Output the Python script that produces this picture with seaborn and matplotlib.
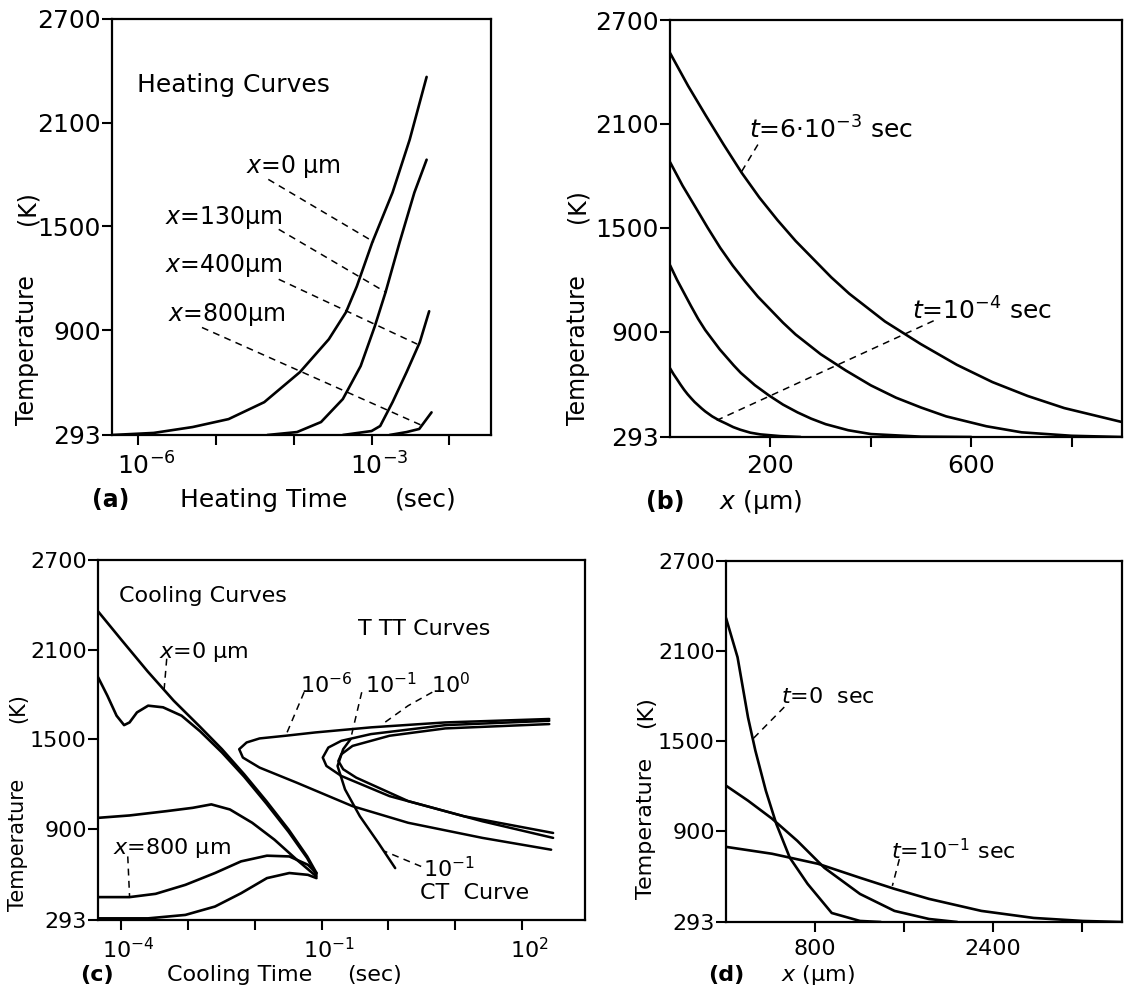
import matplotlib
matplotlib.use("Agg")
import matplotlib.pyplot as plt
import matplotlib.transforms as mtransforms
import seaborn as sns

# ---- panel (a): heating curves, time (s) vs temperature (K)
heat_t_x0 = [4.6e-7, 1.58e-6, 5.0e-6, 1.45e-5, 4.17e-5, 1.2e-4, 2.82e-4, 4.68e-4, 6.46e-4, 1.02e-3, 1.86e-3, 3.09e-3, 5.1e-3]
heat_T_x0 = [293, 305, 339, 385, 483, 657, 847, 1003, 1153, 1407, 1696, 2002, 2365]
heat_t_x130 = [4.57e-5, 1.10e-4, 2.24e-4, 4.27e-4, 7.24e-4, 1.10e-3, 1.51e-3, 2.29e-3, 3.55e-3, 5.1e-3]
heat_T_x130 = [293, 310, 368, 501, 692, 922, 1118, 1407, 1696, 1886]
heat_t_x400 = [4.27e-4, 1.0e-3, 1.29e-3, 1.86e-3, 2.82e-3, 4.17e-3, 5.5e-3]
heat_T_x400 = [293, 316, 345, 483, 657, 830, 1009]
heat_t_x800 = [1.7e-3, 2.82e-3, 4.1e-3, 5.9e-3]
heat_T_x800 = [293, 310, 328, 424]
heat_labels = ["$\\mathit{x}$=0 µm", "$\\mathit{x}$=130µm", "$\\mathit{x}$=400µm", "$\\mathit{x}$=800µm"]
heat_label_t = [2.46e-5, 2.22e-6, 2.22e-6, 2.4e-6]
heat_label_T = [1849, 1551, 1271, 992]
heat_lead_t = [[4.7e-5, 1.07e-3], [6.4e-5, 1.55e-3], [6.4e-5, 3.85e-3], [6.6e-6, 4.5e-3]]
heat_lead_T = [[1772, 1410], [1483, 1117], [1194, 819], [915, 347]]

# ---- panel (b): profiles T(x) during heating, x in um
prof_x_a = [0, 36, 71, 107, 143, 178, 214, 250, 321, 357, 428, 499, 571, 642, 712, 785, 899]
prof_T_a = [2510, 2320, 2150, 1980, 1817, 1675, 1545, 1425, 1215, 1120, 960, 830, 710, 610, 530, 460, 380]
prof_x_b = [0, 25, 50, 75, 100, 125, 150, 175, 225, 250, 300, 350, 400, 450, 500, 550, 630, 700, 800, 900]
prof_T_b = [1880, 1744, 1623, 1501, 1385, 1282, 1190, 1103, 953, 885, 771, 677, 591, 520, 463, 412, 355, 320, 300, 293]
prof_x_c = [0, 14, 28, 42, 56, 70, 85, 99, 127, 141, 169, 197, 225, 254, 281, 310, 355, 400, 500, 600]
prof_T_c = [1285, 1200, 1124, 1048, 975, 911, 853, 799, 706, 663, 592, 533, 480, 435, 399, 367, 332, 310, 295, 293]
prof_x_d = [0, 7, 14, 21, 28, 35, 42, 49, 63, 70, 84, 98, 112, 126, 140, 160, 180, 220, 260]
prof_T_d = [690, 656, 626, 595, 566, 540, 517, 495, 458, 441, 412, 389, 370, 350, 335, 318, 308, 298, 293]

# ---- panel (c): cooling curves and TTT / CT curves
cool_t_1 = [4.52e-5, 1.03e-4, 2.51e-4, 6.14e-4, 1.5e-3, 3.23e-3, 6.95e-3, 1.49e-2, 3.21e-2, 6.08e-2, 8.38e-2]
cool_T_1 = [2357, 2162, 1954, 1759, 1587, 1435, 1267, 1088, 897, 718, 607]
cool_t_2 = [4.52e-5, 6.24e-5, 8.57e-5, 1.11e-4, 1.34e-4, 1.73e-4, 2.54e-4, 4.25e-4, 8.04e-4, 1.52e-3, 3.23e-3, 6.95e-3, 1.49e-2, 3.21e-2, 6.08e-2, 8.38e-2]
cool_T_2 = [1917, 1793, 1659, 1596, 1614, 1681, 1726, 1715, 1659, 1555, 1413, 1251, 1072, 882, 707, 595]
cool_t_3 = [4.52e-5, 1.34e-4, 4.82e-4, 1.18e-3, 2.24e-3, 4.25e-3, 9.16e-3, 1.97e-2, 4.25e-2, 8.38e-2]
cool_T_3 = [976, 992, 1021, 1043, 1066, 1032, 943, 830, 696, 584]
cool_t_4 = [4.52e-5, 1.34e-4, 3.29e-4, 9.16e-4, 2.54e-3, 6.24e-3, 1.52e-2, 3.29e-2, 6.24e-2, 8.38e-2]
cool_T_4 = [446, 446, 468, 528, 607, 685, 723, 718, 662, 607]
cool_t_5 = [4.52e-5, 2.54e-4, 9.16e-4, 2.54e-3, 6.24e-3, 1.52e-2, 3.29e-2, 6.24e-2, 8.38e-2]
cool_T_5 = [304, 304, 327, 383, 472, 573, 607, 595, 573]
ttt_t_6 = [254, 7.08, 0.547, 0.0804, 0.029, 0.0118, 7.55e-3, 5.85e-3, 6.64e-3, 0.0118, 0.0425, 0.29, 1.97, 25.4, 271]
ttt_T_6 = [1637, 1614, 1581, 1547, 1525, 1507, 1480, 1435, 1379, 1312, 1211, 1054, 943, 842, 763]
ttt_t_1 = [254, 7.08, 0.547, 0.197, 0.126, 0.104, 0.118, 0.197, 1.04, 13.4, 290]
ttt_T_1 = [1625, 1596, 1536, 1491, 1446, 1379, 1323, 1256, 1121, 987, 875]
ttt_t_0 = [254, 7.08, 1.04, 0.29, 0.197, 0.178, 0.21, 0.329, 1.97, 25.4, 290]
ttt_T_0 = [1603, 1574, 1525, 1457, 1401, 1356, 1301, 1245, 1088, 953, 842]
ct_t = [0.271, 0.21, 0.173, 0.224, 0.373, 0.708, 1.26]
ct_T = [1502, 1435, 1323, 1166, 987, 808, 640]

# ---- panel (d): profiles T(x) during cooling
cprof_x_a = [0, 104, 198, 264, 358, 452, 574, 734, 951, 1205, 1393]
cprof_T_a = [2320, 2058, 1657, 1436, 1169, 948, 721, 547, 353, 300, 293]
cprof_x_b = [0, 198, 414, 640, 885, 1205, 1515, 1826, 2080]
cprof_T_b = [1202, 1102, 982, 835, 654, 480, 367, 313, 293]
cprof_x_c = [0, 414, 828, 1205, 1515, 1826, 2296, 2767, 3209, 3561]
cprof_T_c = [794, 748, 681, 588, 514, 447, 367, 320, 300, 293]

T_ticks = [293, 900, 1500, 2100, 2700]

sns.set_style("ticks")
plt.rcParams["font.family"] = ["DejaVu Sans"]
plt.rcParams["mathtext.default"] = "regular"
for k in ["text.color", "axes.labelcolor", "xtick.color", "ytick.color", "axes.edgecolor"]:
    plt.rcParams[k] = "black"

W, H = 1127, 992
fig = plt.figure(figsize=(W / 100, H / 100), dpi=100)


def box(l, t, r, b):
    return [l / W, 1 - b / H, (r - l) / W, (b - t) / H]


def curve(ax, x, y, lw=1.9, ls="-"):
    sns.lineplot(x=x, y=y, ax=ax, color="black", linewidth=lw, linestyle=ls,
                 sort=False, estimator=None, legend=False)


def dash(ax, x, y):
    curve(ax, x, y, lw=1.1, ls=(0, (4.5, 3.5)))


def style(ax, fs):
    for s in ax.spines.values():
        s.set_linewidth(1.6)
        s.set_color("black")
    ax.set_ylim(293, 2700)
    ax.set_yticks(T_ticks)
    ax.set_yticklabels([str(v) for v in T_ticks])
    ax.tick_params(axis="y", direction="out", length=7, width=1.5, pad=1, labelsize=fs, colors="black")
    ax.tick_params(axis="x", direction="out", length=7.5, width=1.5, pad=5, labelsize=fs, colors="black")
    ax.minorticks_off()
    ax.set_xlabel("")
    ax.set_ylabel("")


def shift_xlabels(ax, px):
    # the "10" sits over the tick, the exponent hangs to the right
    off = mtransforms.ScaledTranslation(px / 100, 0, fig.dpi_scale_trans)
    for lab in ax.get_xticklabels():
        lab.set_transform(lab.get_transform() + off)


def ftext(x, y, s, **kw):
    fig.text(x / W, 1 - y / H, s, color="black", **kw)


# (a)
ax = fig.add_axes(box(112, 19, 491, 435))
for t, T in [(heat_t_x0, heat_T_x0), (heat_t_x130, heat_T_x130),
             (heat_t_x400, heat_T_x400), (heat_t_x800, heat_T_x800)]:
    curve(ax, t, T)
for lt, lT in zip(heat_lead_t, heat_lead_T):
    dash(ax, lt, lT)
ax.set_xscale("log")
ax.set_xlim(4.6e-7, 3.43e-2)
style(ax, 18)
ax.set_xticks([1e-6, 1e-5, 1e-4, 1e-3, 1e-2])
ax.set_xticklabels(["$10^{-6}$", "", "", "$10^{-3}$", ""])
ax.minorticks_off()
shift_xlabels(ax, 8)
ax.text(9.7e-7, 2321, "Heating Curves", fontsize=18, va="center", color="black")
for s, tx, Ty in zip(heat_labels, heat_label_t, heat_label_T):
    ax.text(tx, Ty, s, fontsize=17, va="center", color="black")

# (b)
ax = fig.add_axes(box(670, 20, 1122, 437))
for x, T in [(prof_x_a, prof_T_a), (prof_x_b, prof_T_b), (prof_x_c, prof_T_c), (prof_x_d, prof_T_d)]:
    curve(ax, x, T)
dash(ax, [175, 139], [1981, 1808])
dash(ax, [525, 93], [964, 389])
ax.set_xlim(0, 900)
style(ax, 18)
ax.set_xticks([200, 400, 600, 800])
ax.set_xticklabels(["200", "", "600", ""])
ax.text(157, 2067, "$\\mathit{t}$=6·10$^{-3}$ sec", fontsize=18, va="center", color="black")
ax.text(482, 1022, "$\\mathit{t}$=10$^{-4}$ sec", fontsize=18, va="center", color="black")

# (c)
ax = fig.add_axes(box(98, 560, 585, 920))
for t, T in [(cool_t_1, cool_T_1), (cool_t_2, cool_T_2), (cool_t_3, cool_T_3),
             (cool_t_4, cool_T_4), (cool_t_5, cool_T_5)]:
    curve(ax, t, T)
for t, T in [(ttt_t_6, ttt_T_6), (ttt_t_1, ttt_T_1), (ttt_t_0, ttt_T_0), (ct_t, ct_T)]:
    curve(ax, t, T, lw=1.8)
dash(ax, [4.82e-4, 4.4e-4], [2040, 1830])
dash(ax, [1.26e-4, 1.34e-4], [718, 450])
dash(ax, [0.0547, 0.029], [1816, 1525])
dash(ax, [0.398, 0.271], [1816, 1502])
dash(ax, [4.52, 1.97, 0.881], [1816, 1726, 1614])
dash(ax, [3.08, 0.881], [651, 752])
ax.set_xscale("log")
ax.set_xlim(4.52e-5, 870)
style(ax, 16)
ax.set_xticks([1e-4, 1e-3, 1e-2, 1e-1, 1e0, 1e1, 1e2])
ax.set_xticklabels(["$10^{-4}$", "", "", "$10^{-1}$", "", "", "$10^{2}$"])
ax.minorticks_off()
shift_xlabels(ax, 7)
for tx, Ty, s in [(9.3e-5, 2456, "Cooling Curves"), (0.355, 2241, "T TT Curves"),
                  (3.7e-4, 2087, "$\\mathit{x}$=0 µm"), (7.6e-5, 777, "$\\mathit{x}$=800 µm"),
                  (0.048, 1870, "10$^{-6}$"), (0.447, 1870, "10$^{-1}$"), (4.27, 1870, "10$^{0}$"),
                  (3.3, 640, "10$^{-1}$"), (3.0, 472, "CT  Curve")]:
    ax.text(tx, Ty, s, fontsize=16, va="center", color="black")

# (d)
ax = fig.add_axes(box(726, 561, 1122, 922))
for x, T in [(cprof_x_a, cprof_T_a), (cprof_x_b, cprof_T_b), (cprof_x_c, cprof_T_c)]:
    curve(ax, x, T)
dash(ax, [524, 242], [1726, 1514])
dash(ax, [1559, 1496], [712, 534])
ax.set_xlim(0, 3561)
style(ax, 16)
ax.set_xticks([800, 1600, 2400, 3200])
ax.set_xticklabels(["800", "", "2400", ""])
ax.text(493, 1793, "$\\mathit{t}$=0  sec", fontsize=16, va="center", color="black")
ax.text(1481, 768, "$\\mathit{t}$=10$^{-1}$ sec", fontsize=16, va="center", color="black")

# axis captions
for x, yt, yk, fs in [(27, 350, 208, 17), (578, 350, 206, 17), (18, 845, 708, 15), (646, 828, 712, 16)]:
    ftext(x, yt, "Temperature", rotation=90, ha="center", va="center", fontsize=fs)
    ftext(x, yk, "(K)", rotation=90, ha="center", va="center", fontsize=fs)

ftext(111, 500, "(a)", ha="center", va="center", fontsize=17, fontweight="bold")
ftext(180, 500, "Heating Time", ha="left", va="center", fontsize=18)
ftext(395, 500, "(sec)", ha="left", va="center", fontsize=18)
ftext(665, 502, "(b)", ha="center", va="center", fontsize=17, fontweight="bold")
ftext(719, 502, "$\\mathit{x}$ (µm)", ha="left", va="center", fontsize=18)
ftext(97, 975, "(c)", ha="center", va="center", fontsize=16, fontweight="bold")
ftext(167, 975, "Cooling Time", ha="left", va="center", fontsize=16)
ftext(347, 975, "(sec)", ha="left", va="center", fontsize=16)
ftext(726, 975, "(d)", ha="center", va="center", fontsize=16, fontweight="bold")
ftext(781, 975, "$\\mathit{x}$ (µm)", ha="left", va="center", fontsize=16)

fig.savefig("out.png", dpi=100, facecolor="white")
